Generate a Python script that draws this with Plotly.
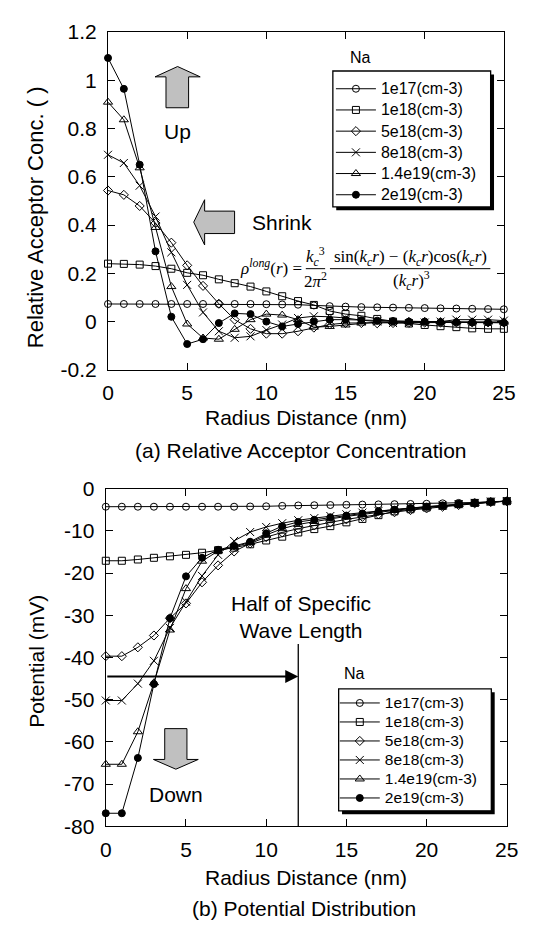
import plotly.graph_objects as go

# ---------------- data ----------------
radius = list(range(26))
series_names = ["1e17(cm-3)", "1e18(cm-3)", "5e18(cm-3)", "8e18(cm-3)", "1.4e19(cm-3)", "2e19(cm-3)"]

# (a) relative acceptor concentration
acc_1e17 = [0.073, 0.073, 0.073, 0.073, 0.073, 0.073, 0.073, 0.073, 0.073, 0.073, 0.072, 0.071, 0.070,
            0.067, 0.064, 0.062, 0.060, 0.059, 0.058, 0.057, 0.056, 0.055, 0.054, 0.053, 0.052, 0.051]
acc_1e18 = [0.240, 0.239, 0.236, 0.230, 0.219, 0.202, 0.192, 0.175, 0.159, 0.145, 0.125, 0.105, 0.085,
            0.069, 0.044, 0.031, 0.024, 0.011, 0.000, -0.008, -0.014, -0.019, -0.023, -0.028, -0.030, -0.030]
acc_5e18 = [0.543, 0.525, 0.479, 0.408, 0.327, 0.233, 0.148, 0.074, 0.008, -0.030, -0.050, -0.050, -0.040,
            -0.025, -0.012, -0.006, -0.006, -0.007, -0.006, -0.005, -0.004, -0.004, -0.003, -0.003, -0.003, -0.003]
acc_8e18 = [0.691, 0.657, 0.563, 0.435, 0.287, 0.152, 0.038, -0.040, -0.067, -0.061, -0.035, -0.012, 0.015,
            0.022, 0.020, 0.015, 0.006, 0.000, -0.006, -0.006, -0.004, 0.000, 0.008, 0.008, 0.008, 0.004]
acc_14e19 = [0.909, 0.836, 0.637, 0.390, 0.145, -0.010, -0.068, -0.073, -0.032, 0.008, 0.031, 0.027, 0.008,
             -0.023, -0.020, -0.014, -0.006, -0.002, 0.000, 0.001, 0.001, 0.000, -0.001, -0.002, -0.002, -0.002]
acc_2e19 = [1.092, 0.964, 0.650, 0.291, 0.020, -0.093, -0.073, -0.006, 0.034, 0.031, 0.000, -0.020, -0.010,
            0.000, 0.008, 0.008, 0.006, 0.004, 0.002, 0.000, 0.000, -0.002, -0.003, -0.004, -0.004, -0.005]

# (b) potential distribution (mV)
pot_1e17 = [-4.3, -4.3, -4.3, -4.3, -4.3, -4.3, -4.3, -4.3, -4.3, -4.25, -4.2, -4.1, -4.0,
            -3.95, -3.9, -3.85, -3.8, -3.75, -3.7, -3.65, -3.6, -3.5, -3.4, -3.3, -3.15, -3.0]
pot_1e18 = [-17.1, -17.1, -16.8, -16.4, -16.05, -15.7, -15.2, -14.6, -14.0, -13.2, -12.3, -11.4, -10.4,
            -9.6, -8.9, -8.0, -7.2, -6.3, -5.4, -4.9, -4.5, -4.1, -3.7, -3.4, -3.1, -3.0]
pot_5e18 = [-39.7, -39.7, -37.6, -34.8, -30.7, -27.2, -22.2, -18.2, -14.9, -13.0, -11.5, -10.4, -9.5,
            -8.7, -8.0, -7.3, -6.7, -6.1, -5.6, -5.1, -4.7, -4.3, -3.9, -3.5, -3.2, -3.0]
pot_8e18 = [-50.2, -50.2, -46.2, -40.8, -33.0, -26.8, -20.7, -15.7, -12.4, -10.3, -9.1, -8.2, -7.5,
            -7.0, -6.5, -6.1, -5.7, -5.3, -4.9, -4.6, -4.3, -4.0, -3.7, -3.4, -3.1, -2.95]
pot_14e19 = [-65.3, -65.3, -57.6, -46.0, -33.5, -23.7, -17.2, -14.8, -13.8, -12.8, -11.0, -9.5, -8.5,
             -7.8, -7.2, -6.6, -6.1, -5.6, -5.1, -4.7, -4.4, -4.1, -3.8, -3.5, -3.2, -3.0]
pot_2e19 = [-76.9, -76.9, -63.8, -46.3, -30.7, -20.8, -16.4, -14.5, -13.6, -12.6, -10.6, -8.9, -7.9,
            -7.4, -6.8, -6.4, -5.9, -5.4, -5.0, -4.6, -4.3, -4.0, -3.7, -3.4, -3.1, -2.95]

acc_series = [acc_1e17, acc_1e18, acc_5e18, acc_8e18, acc_14e19, acc_2e19]
pot_series = [pot_1e17, pot_1e18, pot_5e18, pot_8e18, pot_14e19, pot_2e19]

x_ticks = [0, 5, 10, 15, 20, 25]
x_ticktext = ["0", "5", "10", "15", "20", "25"]
acc_ticks = [-0.2, 0, 0.2, 0.4, 0.6, 0.8, 1.0, 1.2]
acc_ticktext = ["-0.2", "0", "0.2", "0.4", "0.6", "0.8", "1", "1.2"]
pot_ticks = [-80, -70, -60, -50, -40, -30, -20, -10, 0]
pot_ticktext = ["-80", "-70", "-60", "-50", "-40", "-30", "-20", "-10", "0"]

half_wavelength = 12
arrow_level = -44.5

# ---------------- styling ----------------
W, H = 533, 925
def X(px):
    return px / W
def Y(py):
    return 1 - py / H

symbols = ["circle-open", "square-open", "diamond-open", "x-thin-open", "triangle-up-open", "circle"]
sizes = [7, 7, 7, 8, 8, 7]
SANS = "Liberation Sans, Arial, sans-serif"
SERIF = "Liberation Serif, Times New Roman, serif"

fig = go.Figure()
for name, ys, sym, sz in zip(series_names, acc_series, symbols, sizes):
    fig.add_trace(go.Scatter(
        x=radius, y=ys, name=f"<span style='font-size:16px'>{name}</span>",
        mode="lines+markers", xaxis="x", yaxis="y",
        legend="legend", cliponaxis=False,
        line=dict(color="black", width=1),
        marker=dict(symbol=sym, size=sz, color="black", line=dict(color="black", width=1)),
    ))
for name, ys, sym, sz in zip(series_names, pot_series, symbols, sizes):
    fig.add_trace(go.Scatter(
        x=radius, y=ys, name=f"<span style='font-size:15.5px'>{name}</span>",
        mode="lines+markers", xaxis="x2", yaxis="y2",
        legend="legend2", cliponaxis=False,
        line=dict(color="black", width=1),
        marker=dict(symbol=sym, size=sz, color="black", line=dict(color="black", width=1)),
    ))

axis_common = dict(showline=True, linecolor="black", linewidth=1.3, mirror="ticks",
                   ticks="inside", ticklen=7, tickwidth=1.3, tickcolor="black",
                   showgrid=False, zeroline=False, tickfont=dict(size=21, family=SANS, color="black"))

fig.update_layout(
    width=W, height=H, margin=dict(l=0, r=0, t=0, b=0),
    paper_bgcolor="white", plot_bgcolor="white",
    font=dict(family=SANS, size=21, color="black"),
    xaxis=dict(domain=[X(97.3), X(507)], range=[0, 25], tickvals=x_ticks, ticktext=x_ticktext,
               anchor="y", ticklabelstandoff=4, **axis_common),
    yaxis=dict(domain=[Y(358.8), Y(12.2)], range=[-0.2, 1.2], tickvals=acc_ticks, ticktext=acc_ticktext,
               anchor="x", ticklabelstandoff=6, **axis_common),
    xaxis2=dict(domain=[X(95), X(510)], range=[0, 25], tickvals=x_ticks, ticktext=x_ticktext,
                anchor="y2", ticklabelstandoff=4, **axis_common),
    yaxis2=dict(domain=[Y(826.9), Y(480.5)], range=[-80, 0], tickvals=pot_ticks, ticktext=pot_ticktext,
                anchor="x2", ticklabelstandoff=6, **axis_common),
    legend=dict(x=X(328), y=Y(54.5), xanchor="left", yanchor="top", bgcolor="rgba(0,0,0,0)",
                borderwidth=0, font=dict(size=14, family=SANS), itemwidth=40, tracegroupgap=0),
    legend2=dict(x=X(332), y=Y(685.5), xanchor="left", yanchor="top", bgcolor="rgba(0,0,0,0)",
                 borderwidth=0, font=dict(size=12, family=SANS), itemwidth=40, tracegroupgap=0),
)

shapes = []
# legend boxes with drop shadow
for (l, t, r, b) in [(330, 52.3, 493.3, 191.7), (336, 686, 494, 811)]:
    shapes.append(dict(type="rect", xref="paper", yref="paper", x0=X(l + 3.5), x1=X(r + 3.5),
                       y0=Y(b + 3.5), y1=Y(t + 3.5), fillcolor="black", line=dict(width=0), layer="above"))
    shapes.append(dict(type="rect", xref="paper", yref="paper", x0=X(l), x1=X(r), y0=Y(b), y1=Y(t),
                       fillcolor="white", line=dict(color="black", width=1.3), layer="above"))

def block(points):
    d = "M " + " L ".join(f"{X(px):.5f},{Y(py):.5f}" for px, py in points) + " Z"
    return dict(type="path", xref="paper", yref="paper", path=d, fillcolor="#c0c0c0",
                line=dict(color="black", width=1), layer="above")

# Up arrow
shapes.append(block([(157.3, 90), (157.3, 58.3), (146, 58.3), (169.3, 47.7), (192.7, 58.3), (180.7, 58.3), (180.7, 90)]))
# Shrink arrow (pointing left)
shapes.append(block([(228.3, 196), (197.3, 196), (197.3, 184.3), (186, 207.3), (197.3, 230.7), (197.3, 219), (228.3, 219)]))
# Down arrow
shapes.append(block([(156, 726.7), (179, 726.7), (179, 758.3), (190.7, 758.3), (167.5, 768.3), (144.3, 758.3), (156, 758.3)]))

# fraction bars of formula
shapes.append(dict(type="line", xref="paper", yref="paper", x0=X(302), x1=X(322), y0=Y(255), y1=Y(255),
                   line=dict(color="black", width=1)))
shapes.append(dict(type="line", xref="paper", yref="paper", x0=X(327), x1=X(493), y0=Y(255), y1=Y(255),
                   line=dict(color="black", width=1)))

# half-wavelength vertical marker
shapes.append(dict(type="line", xref="x2", yref="y2", x0=half_wavelength, x1=half_wavelength,
                   y0=-36.8, y1=-80, line=dict(color="black", width=1.3)))

fig.update_layout(shapes=shapes)

def txt(px, py, text, size=21, xanchor="center", family=SANS, angle=0):
    return dict(xref="paper", yref="paper", x=X(px), y=Y(py), text=text, showarrow=False,
                xanchor=xanchor, yanchor="middle", textangle=angle,
                font=dict(size=size, family=family, color="black"))

ann = [
    txt(302, 408, "Radius Distance (nm)"),
    txt(297, 441, "(a) Relative Acceptor Concentration"),
    txt(302, 879, "Radius Distance (nm)"),
    txt(300, 911, "(b) Potential Distribution"),
    txt(23, 202, "Relative Acceptor Conc. ( )", size=22, angle=-90),
    txt(23, 658, "Potential (mV)", angle=-90),
    txt(359, 38, "Na", size=16),
    txt(352, 670, "Na", size=16),
    txt(169, 114, "Up"),
    txt(244, 207.3, "Shrink", xanchor="left"),
    txt(168, 794, "Down"),
    txt(297, 612, "Half of Specific<br>Wave Length"),
    # formula
    txt(300, 253, "<i>ρ</i><sup><i>long</i></sup>(<i>r</i>) =", size=17, xanchor="right", family=SERIF),
    txt(312, 243, "<i>k</i><sub><i>c</i></sub><sup>3</sup>", size=17, family=SERIF),
    txt(312, 267, "2<i>π</i><sup>2</sup>", size=17, family=SERIF),
    txt(410, 244, "sin(<i>k</i><sub><i>c</i></sub><i>r</i>) − (<i>k</i><sub><i>c</i></sub><i>r</i>)cos(<i>k</i><sub><i>c</i></sub><i>r</i>)", size=17, family=SERIF),
    txt(411, 267, "(<i>k</i><sub><i>c</i></sub><i>r</i>)<sup>3</sup>", size=17, family=SERIF),
    # half-wavelength arrow
    dict(xref="x2", yref="y2", axref="x2", ayref="y2", x=half_wavelength, y=arrow_level,
         ax=0, ay=arrow_level, text="", showarrow=True, arrowhead=2, arrowsize=1.3,
         arrowwidth=2, arrowcolor="black", standoff=0, startstandoff=0),
]
fig.update_layout(annotations=ann)

fig.write_html("out.html")
